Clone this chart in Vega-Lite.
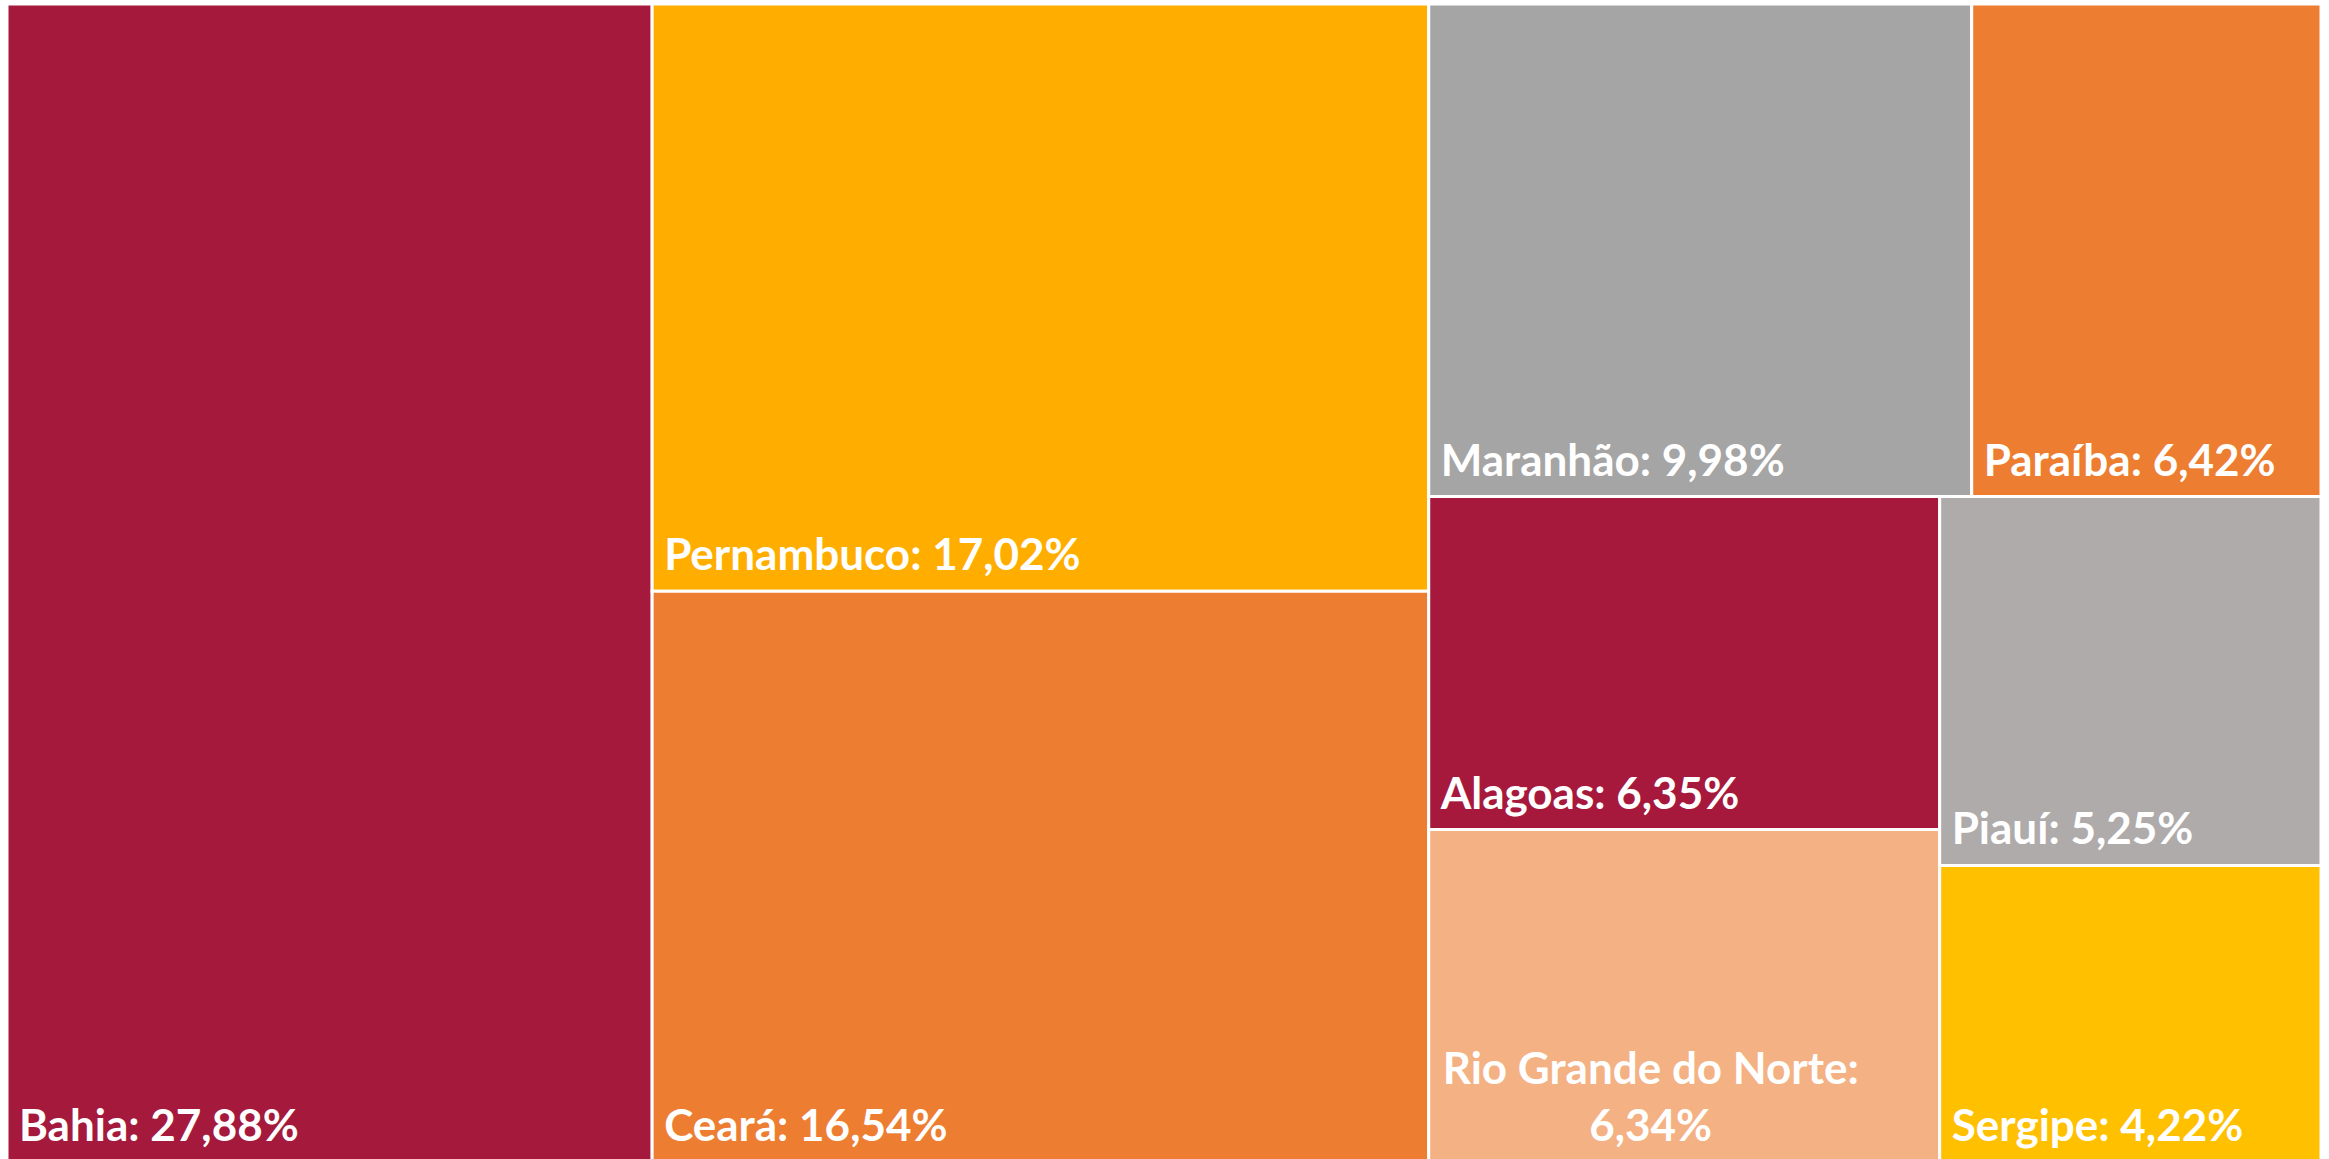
{
  "$schema": "https://vega.github.io/schema/vega-lite/v6.json",
  "width": 2314,
  "height": 1158,
  "autosize": "none",
  "padding": {"left": 7, "top": 4, "right": 8, "bottom": 0},
  "background": "white",
  "config": {"view": {"stroke": null}},
  "data": {
    "values": [
      {"rank": 1, "state": "Bahia", "value": 27.88, "l1": "A", "l2": "Bahia", "l3": "Bahia"},
      {"rank": 2, "state": "Pernambuco", "value": 17.02, "l1": "B", "l2": "Pernambuco", "l3": "Pernambuco"},
      {"rank": 3, "state": "Ceará", "value": 16.54, "l1": "B", "l2": "Ceará", "l3": "Ceará"},
      {"rank": 4, "state": "Maranhão", "value": 9.98, "l1": "C", "l2": "top", "l3": "Maranhão"},
      {"rank": 5, "state": "Paraíba", "value": 6.42, "l1": "C", "l2": "top", "l3": "Paraíba"},
      {"rank": 6, "state": "Alagoas", "value": 6.35, "l1": "C", "l2": "bottom", "l3": "sub1"},
      {"rank": 7, "state": "Rio Grande do Norte", "value": 6.34, "l1": "C", "l2": "bottom", "l3": "sub1"},
      {"rank": 8, "state": "Piauí", "value": 5.25, "l1": "C", "l2": "bottom", "l3": "sub2"},
      {"rank": 9, "state": "Sergipe", "value": 4.22, "l1": "C", "l2": "bottom", "l3": "sub2"}
    ]
  },
  "transform": [
    {"joinaggregate": [{"op": "sum", "field": "value", "as": "t1"}], "groupby": ["l1"]},
    {"joinaggregate": [{"op": "sum", "field": "value", "as": "t2"}], "groupby": ["l1", "l2"]},
    {"joinaggregate": [{"op": "sum", "field": "value", "as": "t3"}], "groupby": ["l1", "l2", "l3"]},
    {"window": [{"op": "sum", "field": "value", "as": "c0"}], "sort": [{"field": "rank"}]},
    {"window": [{"op": "sum", "field": "value", "as": "c1"}], "groupby": ["l1"], "sort": [{"field": "rank"}]},
    {"window": [{"op": "sum", "field": "value", "as": "c2"}], "groupby": ["l1", "l2"], "sort": [{"field": "rank"}]},
    {"window": [{"op": "sum", "field": "value", "as": "c3"}], "groupby": ["l1", "l2", "l3"], "sort": [{"field": "rank"}]},
    {"calculate": "datum.c0 - datum.value", "as": "e0"},
    {"calculate": "datum.c1 - datum.value", "as": "e1"},
    {"calculate": "datum.c2 - datum.value", "as": "e2"},
    {"calculate": "datum.c3 - datum.value", "as": "e3"},
    {"joinaggregate": [{"op": "min", "field": "e0", "as": "s0"}], "groupby": ["l1"]},
    {"joinaggregate": [{"op": "min", "field": "e1", "as": "s1"}], "groupby": ["l1", "l2"]},
    {"joinaggregate": [{"op": "min", "field": "e2", "as": "s2"}], "groupby": ["l1", "l2", "l3"]},
    {"calculate": "datum.s1 / datum.t1", "as": "ya"},
    {"calculate": "(datum.s1 + datum.t2) / datum.t1", "as": "yb"},
    {"calculate": "datum.s0 + datum.t1 * datum.s2 / datum.t2", "as": "x0"},
    {"calculate": "datum.s0 + datum.t1 * (datum.s2 + datum.t3) / datum.t2", "as": "x1"},
    {"calculate": "datum.ya + (datum.yb - datum.ya) * datum.e3 / datum.t3", "as": "y0"},
    {"calculate": "datum.ya + (datum.yb - datum.ya) * (datum.e3 + datum.value) / datum.t3", "as": "y1"},
    {"calculate": "datum.state + ': ' + replace(format(datum.value, '.2f'), '.', ',') + '%'", "as": "label"},
    {"calculate": "[datum.state + ':', replace(format(datum.value, '.2f'), '.', ',') + '%']", "as": "label2"}
  ],
  "encoding": {
    "x": {"field": "x0", "type": "quantitative", "scale": {"domain": [0, 100], "nice": false, "zero": false}, "axis": null},
    "y": {"field": "y1", "type": "quantitative", "scale": {"domain": [0, 1], "nice": false, "reverse": true}, "axis": null}
  },
  "layer": [
    {
      "mark": {"type": "rect", "stroke": "white", "strokeWidth": 3},
      "encoding": {
        "x": {"field": "x0", "type": "quantitative"},
        "x2": {"field": "x1"},
        "y": {"field": "y0", "type": "quantitative"},
        "y2": {"field": "y1"},
        "color": {
          "field": "state",
          "type": "nominal",
          "legend": null,
          "scale": {
            "domain": ["Bahia", "Pernambuco", "Ceará", "Maranhão", "Paraíba", "Alagoas", "Rio Grande do Norte", "Piauí", "Sergipe"],
            "range": ["#A5193C", "#FFAE00", "#ED7D31", "#A5A5A5", "#ED7D31", "#A6193C", "#F4B183", "#AFABAB", "#FFC000"]
          }
        }
      }
    },
    {
      "transform": [{"filter": "datum.state != 'Rio Grande do Norte'"}],
      "mark": {"type": "text", "align": "left", "baseline": "bottom", "dx": 12, "dy": -12, "font": "Lato", "fontWeight": "bold", "fontSize": 44, "color": "white"},
      "encoding": {"text": {"field": "label"}}
    },
    {
      "transform": [{"filter": "datum.state == 'Rio Grande do Norte'"}],
      "mark": {"type": "text", "align": "center", "baseline": "bottom", "dx": 222, "dy": -69, "lineHeight": 57, "font": "Lato", "fontWeight": "bold", "fontSize": 44, "color": "white"},
      "encoding": {"text": {"field": "label2"}}
    }
  ]
}
